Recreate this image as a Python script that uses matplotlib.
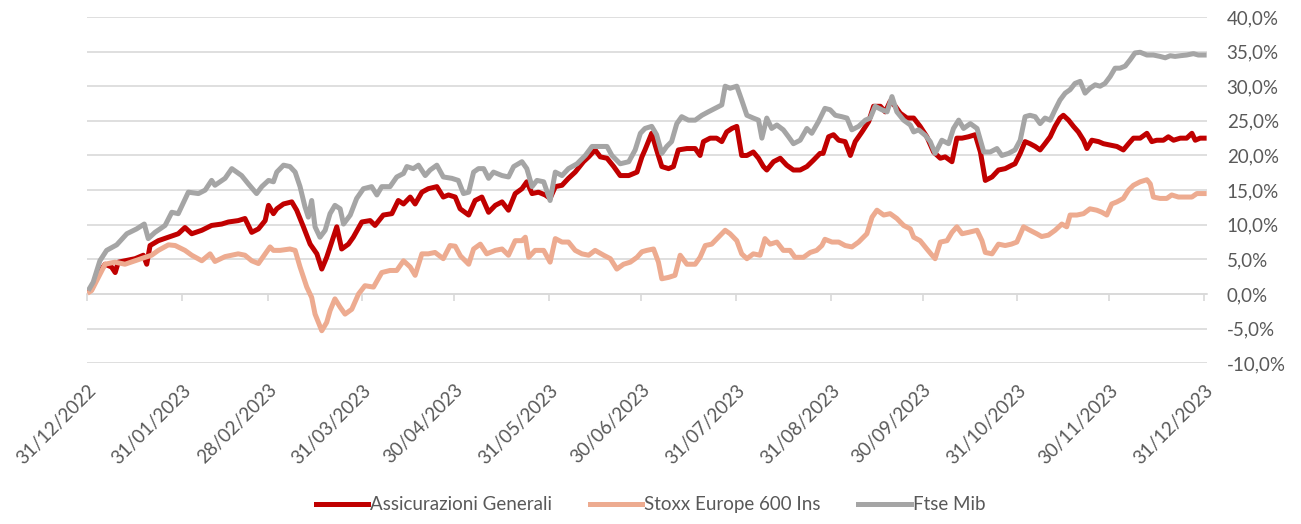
import numpy as np
import pandas as pd
from matplotlib import pyplot as plt

plt.rcParams['font.family'] = ['Lato', 'DejaVu Sans']

start = pd.Timestamp('2022-12-31')

# days after 31/12/2022, performance in %
gen_days = [0.8, 1.5, 3.7, 5.9, 8.0, 9.2, 10.2, 12.4, 15.7, 18.4, 19.5, 20.6, 23.3, 26.6, 29.8, 32.0, 34.2, 37.5,
            40.7, 44.0, 46.2, 49.4, 51.6, 53.8, 56.0, 58.2, 59.3, 60.9, 62.0, 64.2, 66.9, 68.5, 70.7, 72.9, 75.1,
            76.7, 78.3, 80.5, 81.6, 83.2, 85.4, 87.0, 89.8, 92.5, 94.1, 96.8, 99.6, 101.7, 103.4, 105.6, 107.2,
            109.4, 111.5, 114.3, 116.4, 118.1, 120.3, 121.9, 124.7, 126.8, 129.0, 131.2, 133.4, 135.6, 137.7,
            139.9, 142.1, 143.7, 145.4, 147.5, 149.7, 151.3, 153.0, 155.2, 157.3, 159.5, 162.2, 163.9, 166.0,
            167.7, 169.9, 172.1, 174.2, 177.0, 179.7, 181.3, 182.3, 184.5, 186.1, 187.8, 190.0, 191.6, 193.2,
            196.0, 198.7, 200.3, 201.4, 203.6, 205.7, 207.4, 209.0, 210.7, 212.3, 213.9, 215.6, 217.7, 219.4,
            221.0, 222.1, 224.3, 226.5, 228.6, 230.8, 233.0, 235.2, 237.3, 239.5, 240.5, 242.3, 243.9, 245.6,
            247.7, 249.4, 251.0, 253.2, 255.4, 257.0, 259.2, 260.8, 262.4, 264.1, 265.7, 267.9, 270.1, 272.2,
            274.4, 276.6, 278.8, 280.4, 282.6, 284.2, 285.9, 288.0, 290.2, 291.9, 293.5, 295.7, 297.8, 300.0,
            302.2, 303.2, 304.9, 306.5, 308.1, 309.8, 311.4, 313.0, 314.7, 316.3, 317.9, 319.0, 320.7, 322.3,
            323.9, 325.6, 326.7, 328.3, 330.5, 332.1, 334.3, 336.5, 338.6, 340.3, 341.9, 344.1, 346.3, 347.9,
            349.5, 351.7, 353.3, 355.0, 357.2, 359.3, 361.0, 362.1, 363.7, 365.0]
gen_vals = [0.5, 0.7, 2.9, 4.3, 3.9, 3.1, 4.6, 4.8, 5.1, 5.6, 4.3, 7.0, 7.7, 8.2, 8.7, 9.6, 8.7, 9.2,
            9.9, 10.1, 10.4, 10.6, 10.9, 8.9, 9.4, 10.6, 12.8, 11.6, 12.3, 13.0, 13.3, 12.1, 9.7, 7.2, 5.8,
            3.6, 5.3, 8.2, 9.7, 6.5, 7.2, 8.2, 10.4, 10.6, 9.9, 11.4, 11.6, 13.5, 13.0, 14.0, 13.0,
            14.7, 15.2, 15.5, 14.0, 14.3, 14.0, 12.3, 11.4, 13.5, 14.0, 11.8, 12.8, 13.3, 12.1,
            14.5, 15.2, 16.2, 14.5, 14.7, 14.3, 13.8, 15.5, 15.7, 16.7, 17.6, 19.1, 19.8, 20.8,
            19.8, 19.6, 18.4, 17.1, 17.1, 17.6, 19.8, 20.8, 23.2, 20.8, 18.4, 18.1, 18.4, 20.8,
            21.0, 21.0, 20.0, 22.0, 22.5, 22.5, 22.0, 23.4, 23.9, 24.2, 20.0, 20.0, 20.5, 19.6,
            18.4, 17.9, 19.1, 19.6, 18.6, 17.9, 17.9, 18.4, 19.3, 20.3, 20.3, 22.7, 23.0, 22.2,
            22.0, 20.0, 22.0, 23.4, 24.9, 27.1, 27.1, 26.3, 27.8, 27.1, 26.1, 25.4, 25.4, 24.2,
            22.7, 20.5, 19.6, 19.8, 19.1, 22.5, 22.5, 22.7, 23.0, 20.5, 16.4, 16.9, 17.9, 18.1,
            18.6, 18.8, 20.3, 22.0, 21.7, 21.3, 20.8, 21.7, 22.7, 24.2, 25.4, 25.8, 25.1, 24.2,
            23.4, 22.2, 21.0, 22.2, 22.0, 21.7, 21.5, 21.3, 20.8, 21.7, 22.5, 22.5, 23.2, 22.0,
            22.2, 22.2, 22.7, 22.2, 22.5, 22.5, 23.2, 22.2, 22.5, 22.5]

stoxx_days = [0.8, 1.5, 3.7, 5.9, 9.1, 12.4, 15.7, 19.0, 21.1, 23.3, 26.6, 28.8, 32.0, 34.2, 37.5, 40.2, 41.8,
              45.1, 47.3, 49.4, 51.6, 53.8, 56.0, 58.2, 59.8, 60.9, 63.1, 66.3, 68.0, 69.6, 71.8, 73.4, 74.5,
              75.6, 76.7, 78.3, 79.4, 81.0, 82.7, 84.3, 86.5, 88.7, 90.8, 93.6, 96.3, 99.0, 101.2, 103.4, 105.6,
              107.2, 109.4, 111.5, 113.7, 116.4, 118.6, 120.3, 122.0, 124.7, 126.3, 128.5, 130.6, 133.4, 135.6,
              137.7, 139.9, 142.1, 143.2, 144.3, 146.4, 149.2, 151.3, 153.0, 155.2, 157.3, 159.5, 161.7, 163.9,
              166.0, 168.8, 171.0, 173.1, 175.3, 177.5, 179.7, 181.3, 182.9, 185.1, 186.7, 187.8, 190.0, 192.1,
              193.8, 196.0, 198.7, 200.3, 202.0, 204.1, 206.3, 208.5, 210.1, 212.3, 213.9, 215.6, 217.7, 219.9,
              221.5, 223.2, 225.4, 227.5, 229.7, 231.3, 234.1, 236.3, 238.4, 240.1, 241.1, 243.4, 245.6, 247.7,
              249.9, 252.1, 254.8, 256.5, 258.1, 260.3, 262.4, 264.6, 266.8, 269.0, 270.1, 272.2, 274.4, 276.1,
              277.1, 278.8, 281.0, 282.6, 284.2, 285.9, 288.0, 290.8, 292.4, 293.5, 295.7, 297.8, 300.0, 302.0,
              303.8, 306.0, 308.1, 310.3, 311.9, 314.1, 316.3, 318.5, 320.1, 321.2, 323.4, 325.6, 327.7, 329.9,
              331.6, 333.2, 334.8, 336.5, 338.6, 340.3, 341.9, 344.1, 346.3, 347.4, 348.4, 350.6, 352.8, 354.4,
              356.6, 358.8, 361.0, 362.6, 365.0]
stoxx_vals = [0.3, 0.5, 2.4, 4.3, 4.6, 4.3, 4.8, 5.3, 5.6, 6.3, 7.1, 7.0, 6.3, 5.6, 4.8, 5.8, 4.7,
              5.4, 5.6, 5.8, 5.6, 4.8, 4.4, 5.8, 6.8, 6.3, 6.3, 6.5, 6.3, 3.9, 1.0, -0.5, -2.9,
              -4.1, -5.3, -4.1, -2.4, -0.7, -1.9, -2.9, -2.2, 0.0, 1.2, 1.0, 3.1, 3.4, 3.4, 4.8, 3.9,
              2.7, 5.8, 5.8, 6.0, 5.1, 7.0, 6.9, 5.5, 4.3, 6.5, 7.2, 5.8, 6.3, 6.5,
              5.6, 7.7, 7.7, 8.2, 5.3, 6.3, 6.3, 4.6, 8.0, 7.5, 7.5, 6.3, 5.8, 5.6,
              6.3, 5.6, 5.1, 3.6, 4.3, 4.6, 5.3, 6.1, 6.3, 6.5, 4.6, 2.2, 2.4, 2.7,
              5.6, 4.3, 4.3, 5.3, 7.0, 7.2, 8.2, 9.2, 8.7, 7.7, 5.8, 5.1, 5.8, 5.6,
              8.0, 7.2, 7.5, 6.3, 6.3, 5.3, 5.3, 6.0, 6.3, 7.0, 7.9, 7.5, 7.5, 7.0,
              6.8, 7.5, 8.7, 11.1, 12.1, 11.4, 11.6, 10.9, 9.9, 9.4, 8.2, 7.7, 6.5, 5.6,
              5.1, 7.5, 7.7, 8.9, 9.7, 8.7, 8.9, 9.2, 7.7, 6.0, 5.8, 7.2, 7.0, 7.2,
              7.5, 9.7, 9.2, 8.7, 8.3, 8.5, 9.2, 10.1, 9.7, 11.4, 11.4, 11.6, 12.3, 12.1,
              11.8, 11.4, 13.0, 13.3, 13.8, 15.0, 15.7, 16.2, 16.5, 15.9, 14.0, 13.8, 13.8, 14.3,
              14.0, 14.0, 14.0, 14.5, 14.5]

ftse_days = [0.8, 2.0, 4.2, 6.4, 9.7, 13.0, 16.2, 18.7, 20.0, 22.2, 25.5, 27.7, 29.8, 33.1, 36.4, 38.6, 40.7,
             41.8, 45.1, 47.3, 50.5, 52.7, 55.4, 57.1, 59.3, 60.9, 62.0, 64.2, 66.3, 68.0, 69.6, 71.2, 72.3,
             73.4, 74.5, 76.1, 77.8, 79.4, 81.0, 82.7, 83.8, 86.0, 88.1, 90.3, 93.0, 94.7, 96.3, 99.0, 101.2,
             103.4, 104.5, 106.6, 108.3, 110.5, 112.1, 114.3, 116.4, 119.2, 121.3, 123.0, 124.7, 126.3, 127.9,
             129.6, 131.2, 132.8, 135.6, 137.7, 139.4, 142.1, 143.7, 145.4, 147.0, 149.2, 151.3, 153.0, 155.2,
             157.3, 160.1, 162.8, 165.0, 167.1, 169.9, 171.5, 174.2, 177.0, 179.1, 180.8, 182.3, 184.5, 186.1,
             187.8, 189.4, 191.0, 192.7, 194.3, 196.5, 198.7, 200.9, 203.0, 205.2, 207.4, 208.5, 210.1, 212.3,
             213.9, 215.6, 217.7, 219.4, 220.5, 222.1, 223.7, 225.4, 227.5, 229.2, 230.8, 233.0, 235.2, 236.8,
             239.0, 241.1, 242.8, 244.5, 246.6, 248.3, 249.9, 252.1, 254.3, 255.9, 257.5, 259.7, 261.4, 263.0,
             264.6, 266.8, 269.0, 270.1, 271.7, 273.9, 275.5, 277.1, 279.3, 281.5, 283.1, 284.8, 286.4, 288.6,
             290.8, 293.0, 295.1, 297.3, 298.9, 301.1, 303.2, 304.9, 306.5, 308.1, 309.8, 311.4, 313.0, 314.7,
             316.3, 317.9, 319.6, 321.2, 322.8, 324.5, 326.1, 327.7, 329.4, 331.0, 332.6, 334.3, 335.9, 337.5,
             339.2, 340.8, 342.4, 344.1, 346.3, 348.4, 350.6, 352.3, 353.9, 355.5, 357.2, 359.3, 361.5, 363.1,
             365.0]
ftse_vals = [0.8, 1.7, 4.8, 6.3, 7.1, 8.7, 9.4, 10.1, 8.0, 8.9, 9.9, 11.8, 11.6, 14.7, 14.5, 15.0, 16.4,
             15.7, 16.7, 18.1, 17.1, 15.9, 14.5, 15.5, 16.4, 16.2, 17.6, 18.6, 18.4, 17.6, 15.5, 12.6, 11.1,
             13.5, 9.7, 8.2, 9.2, 11.6, 12.8, 12.3, 10.1, 11.4, 13.8, 15.2, 15.5, 14.3, 15.5, 15.5, 16.9,
             17.4, 18.4, 18.1, 18.6, 17.1, 17.9, 18.6, 16.9, 16.7, 16.4, 14.5, 14.7, 17.6, 18.1,
             18.1, 16.7, 17.6, 17.1, 16.9, 18.4, 19.1, 18.1, 15.5, 16.4, 16.2, 13.5, 17.6, 17.1,
             18.1, 18.8, 20.0, 21.3, 21.3, 21.3, 20.0, 18.8, 19.1, 20.8, 23.2, 23.9, 24.2, 23.0,
             20.3, 21.3, 22.0, 24.6, 25.6, 25.1, 25.1, 25.8, 26.3, 26.8, 27.3, 30.0, 29.7, 30.0,
             28.0, 25.8, 25.4, 25.1, 22.5, 25.4, 23.9, 24.4, 23.7, 22.7, 21.7, 22.2, 23.9, 23.2,
             24.9, 26.8, 26.6, 25.8, 25.6, 25.4, 23.7, 24.2, 25.1, 25.4, 27.1, 26.6, 26.3, 28.5,
             26.3, 25.1, 24.4, 23.4, 23.7, 22.9, 22.0, 20.3, 22.2, 21.7, 23.9, 25.1, 23.9, 24.6,
             23.9, 20.5, 20.5, 21.0, 20.0, 20.3, 20.8, 22.2, 25.6, 25.8, 25.6, 24.6, 25.4, 25.1,
             26.6, 28.0, 29.0, 29.5, 30.4, 30.7, 29.0, 29.7, 30.2, 30.0, 30.4, 31.4, 32.6, 32.6,
             32.9, 33.8, 34.8, 34.9, 34.5, 34.5, 34.3, 34.1, 34.4, 34.3, 34.4, 34.5, 34.7, 34.5,
             34.5]

series = [
    ('Assicurazioni Generali', gen_days, gen_vals, '#C00000'),
    ('Stoxx Europe 600 Ins', stoxx_days, stoxx_vals, '#EDAB90'),
    ('Ftse Mib', ftse_days, ftse_vals, '#A5A5A5'),
]

month_ends = pd.date_range('2022-12-31', '2023-12-31', freq='ME')
y_ticks = np.arange(-10, 41, 5)
text_col = '#595959'
grid_col = '#D9D9D9'
fs = 13.5

fig = plt.figure(figsize=(13.01, 5.24), dpi=100)
ax = fig.add_axes([0.0669, 0.3067, 0.861, 0.661])

for name, days, vals, col in series:
    x = start + pd.to_timedelta(np.array(days), unit='D')
    ax.plot(x, vals, color=col, lw=3.6, label=name, solid_joinstyle='round')

ax.set_ylim(-10, 40)
ax.set_xlim(start, start + pd.Timedelta(days=366))
ax.set_yticks(y_ticks)
ax.set_yticklabels([f'{v:.1f}%'.replace('.', ',') for v in y_ticks])
ax.yaxis.tick_right()
ax.tick_params(axis='y', length=0, pad=14, labelsize=fs, labelcolor=text_col)
for lbl in ax.get_yticklabels():
    lbl.set_horizontalalignment('left')
ax.grid(axis='y', color=grid_col, lw=1.2)
ax.set_axisbelow(True)
for s in ax.spines.values():
    s.set_visible(False)

ax.set_xticks(month_ends)
ax.set_xticklabels([d.strftime('%d/%m/%Y') for d in month_ends], rotation=45, ha='right',
                   rotation_mode='anchor')
ax.tick_params(axis='x', length=0, pad=13, labelsize=fs, labelcolor=text_col)

# axis line with tick marks at 0%
sec = ax.secondary_xaxis(0.2)
sec.set_xticks(month_ends)
sec.set_xticklabels([])
sec.tick_params(axis='x', length=5, width=1.2, color=grid_col, direction='out')
sec.spines['bottom'].set_color(grid_col)
sec.spines['bottom'].set_linewidth(1.2)

fig.legend(loc='lower center', bbox_to_anchor=(0.5, -0.012), ncol=3, frameon=False,
           fontsize=fs, labelcolor=text_col, handlelength=2.8, handletextpad=0.1,
           columnspacing=2.0)

fig.savefig('out.png', dpi=100)
